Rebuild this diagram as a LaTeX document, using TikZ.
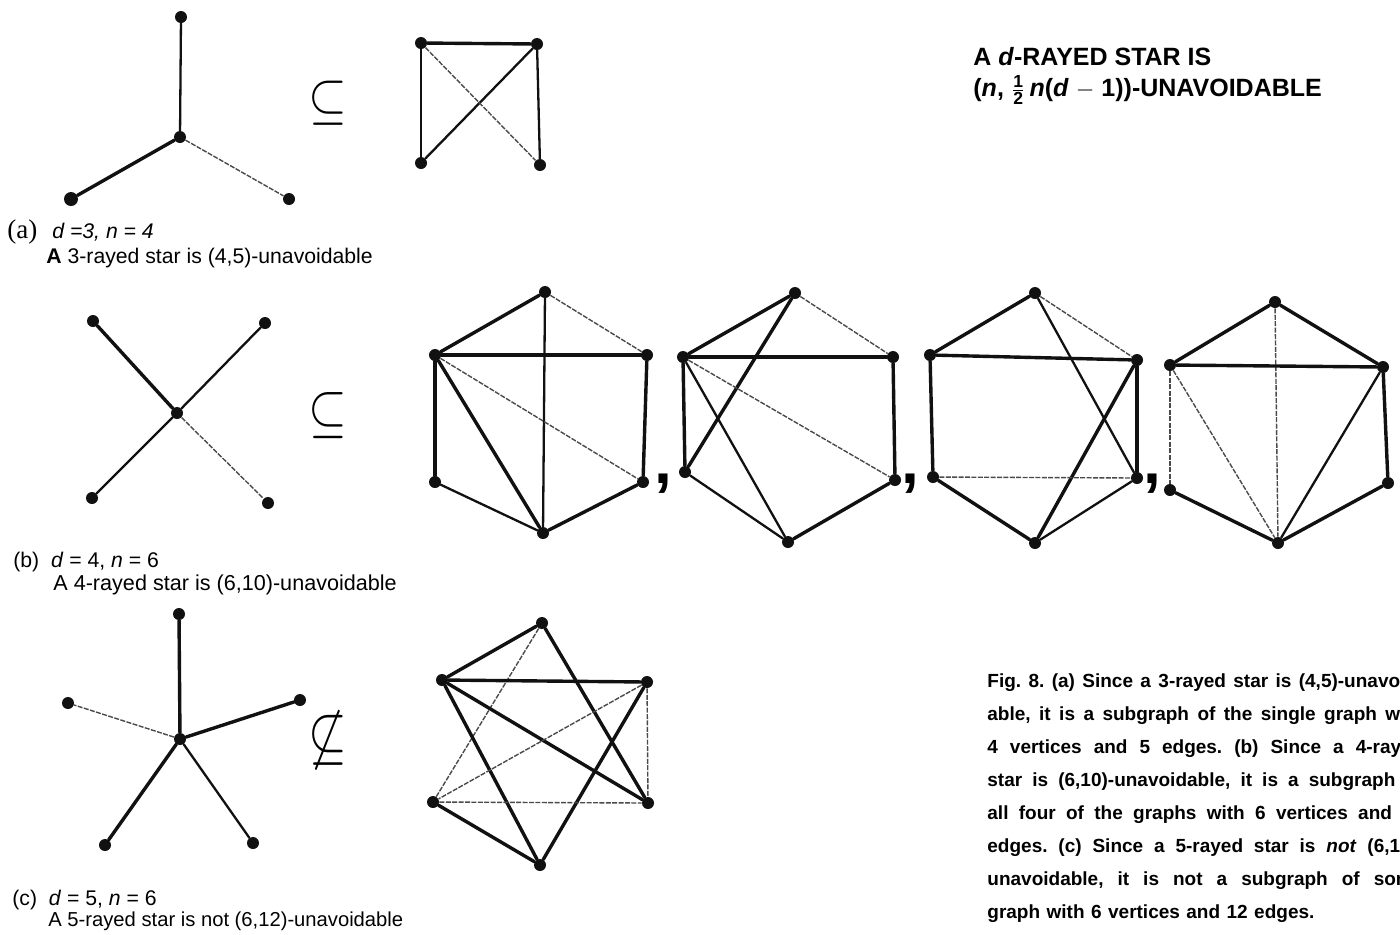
\documentclass[tikz,border=0pt]{standalone}
\usepackage{amsmath}
\usepackage{amssymb}
\usepackage{fontspec}
\setmainfont{Liberation Serif}
\setsansfont{Liberation Sans}
\usetikzlibrary{positioning}
\definecolor{figInk}{HTML}{111111}
\definecolor{figFaint}{HTML}{4A4A4A}
\newcommand{\halfsf}{\ensuremath{\tfrac{\textsf{1}}{\textsf{2}}}}
\tikzset{
  figvert/.style={circle,fill=figInk,inner sep=0pt,minimum size=6pt},
  figedge/.style={figInk,line width=1.7pt,line cap=round},
  figmid/.style={figInk,line width=1.15pt,line cap=round},
  figthin/.style={figFaint,line width=0.7pt,dash pattern=on 2.5pt off 0.7pt},
  figlabel/.style={font=\fontsize{10.6}{13}\selectfont\sffamily,anchor=west,
                   inner sep=0pt},
  figsym/.style={font=\fontsize{38}{38}\selectfont,inner sep=0pt},
  figcomma/.style={font=\fontsize{32}{32}\selectfont\sffamily\bfseries,
                   inner sep=0pt},
  fighead/.style={font=\fontsize{12.5}{15}\selectfont\sffamily\bfseries,
                  anchor=west,inner sep=0pt},
  figcap/.style={font=\fontsize{9.5}{11}\selectfont\sffamily\bfseries
                 \frenchspacing,anchor=west,inner sep=0pt}
}

\begin{document}
\begin{tikzpicture}[x=0.5pt,y=-0.5pt]
  \useasboundingbox (0,0) rectangle (1400,934);
  \clip (0,0) rectangle (1400,934);

  % (a) 3-rayed star and K4 minus an edge
  \node[figvert] (sAc) at (180,137) {};
  \node[figvert] (sAt) at (181,17) {};
  \node[figvert,minimum size=7pt] (sAl) at (71,199) {};
  \node[figvert] (sAr) at (289,199) {};
  \draw[figmid] (sAc) -- (sAt);
  \draw[figedge] (sAc) -- (sAl);
  \draw[figthin] (sAc) -- (sAr);
  \node[figsym] (subA) at (328,103) {\scalebox{1}[1.15]{$\subseteq$}};

  \node[figvert] (gKtl) at (421,43) {};
  \node[figvert] (gKtr) at (537,44) {};
  \node[figvert] (gKbl) at (421,163) {};
  \node[figvert] (gKbr) at (540,165) {};
  \draw[figedge] (gKtl) -- (gKtr);
  \draw[figmid] (gKtl) -- (gKbl);
  \draw[figmid] (gKtr) -- (gKbr);
  \draw[figmid] (gKbl) -- (gKtr);
  \draw[figthin] (gKtl) -- (gKbr);

  \node[font=\fontsize{13.5}{15}\selectfont\rmfamily,anchor=west,inner sep=0pt]
    (labA) at (7,232) {(a)};
  \node[figlabel] (labAd) at (52,232) {\textit{d =3, n = 4}};
  \node[figlabel] (labAt) at (46,258)
    {\textbf{A} 3-rayed star is (4,5)-unavoidable};

  % (b) 4-rayed star and the four graphs with 6 vertices, 10 edges
  \node[figvert] (sBc) at (177,413) {};
  \node[figvert] (sBtl) at (93,321) {};
  \node[figvert] (sBtr) at (265,323) {};
  \node[figvert] (sBbl) at (92,498) {};
  \node[figvert] (sBbr) at (268,503) {};
  \draw[figedge] (sBc) -- (sBtl);
  \draw[figmid] (sBc) -- (sBtr);
  \draw[figmid] (sBc) -- (sBbl);
  \draw[figthin] (sBc) -- (sBbr);
  \node[figsym] (subB) at (328,416) {\scalebox{1}[1.2]{$\subseteq$}};

  \node[figvert] (gAt) at (545,292) {};
  \node[figvert] (gAul) at (435,355) {};
  \node[figvert] (gAur) at (647,355) {};
  \node[figvert] (gAll) at (435,482) {};
  \node[figvert] (gAlr) at (643,482) {};
  \node[figvert] (gAb) at (543,533) {};
  \draw[figedge] (gAt) -- (gAul);
  \draw[figthin] (gAt) -- (gAur);
  \draw[figmid] (gAt) -- (gAb);
  \draw[figedge] (gAul) -- (gAur);
  \draw[figedge] (gAul) -- (gAll);
  \draw[figedge] (gAul) -- (gAb);
  \draw[figthin] (gAul) -- (gAlr);
  \draw[figedge] (gAur) -- (gAlr);
  \draw[figmid] (gAll) -- (gAb);
  \draw[figedge] (gAlr) -- (gAb);
  \node[figcomma] (cmA) at (663,484) {,};

  \node[figvert] (gBt) at (795,293) {};
  \node[figvert] (gBul) at (683,357) {};
  \node[figvert] (gBur) at (893,357) {};
  \node[figvert] (gBll) at (685,472) {};
  \node[figvert] (gBlr) at (895,480) {};
  \node[figvert] (gBb) at (788,542) {};
  \draw[figedge] (gBt) -- (gBul);
  \draw[figthin] (gBt) -- (gBur);
  \draw[figedge] (gBt) -- (gBll);
  \draw[figedge] (gBul) -- (gBur);
  \draw[figedge] (gBul) -- (gBll);
  \draw[figmid] (gBul) -- (gBb);
  \draw[figthin] (gBul) -- (gBlr);
  \draw[figedge] (gBur) -- (gBlr);
  \draw[figmid] (gBll) -- (gBb);
  \draw[figedge] (gBlr) -- (gBb);
  \node[figcomma] (cmB) at (910,484) {,};

  \node[figvert] (gCt) at (1035,293) {};
  \node[figvert] (gCul) at (930,355) {};
  \node[figvert] (gCur) at (1137,360) {};
  \node[figvert] (gCll) at (933,477) {};
  \node[figvert] (gClr) at (1137,478) {};
  \node[figvert] (gCb) at (1035,543) {};
  \draw[figedge] (gCt) -- (gCul);
  \draw[figthin] (gCt) -- (gCur);
  \draw[figmid] (gCt) -- (gClr);
  \draw[figedge] (gCul) -- (gCur);
  \draw[figedge] (gCul) -- (gCll);
  \draw[figedge] (gCur) -- (gClr);
  \draw[figedge] (gCur) -- (gCb);
  \draw[figthin] (gCll) -- (gClr);
  \draw[figedge] (gCll) -- (gCb);
  \draw[figmid] (gClr) -- (gCb);
  \node[figcomma] (cmC) at (1152,484) {,};

  \node[figvert] (gDt) at (1275,302) {};
  \node[figvert] (gDul) at (1170,365) {};
  \node[figvert] (gDur) at (1383,367) {};
  \node[figvert] (gDll) at (1170,490) {};
  \node[figvert] (gDlr) at (1388,483) {};
  \node[figvert] (gDb) at (1278,543) {};
  \draw[figedge] (gDt) -- (gDul);
  \draw[figedge] (gDt) -- (gDur);
  \draw[figthin] (gDt) -- (gDb);
  \draw[figedge] (gDul) -- (gDur);
  \draw[figthin] (gDul) -- (gDll);
  \draw[figthin] (gDul) -- (gDb);
  \draw[figmid] (gDur) -- (gDb);
  \draw[figedge] (gDur) -- (gDlr);
  \draw[figedge] (gDll) -- (gDb);
  \draw[figedge] (gDlr) -- (gDb);

  \node[figlabel] (labB) at (13,562)
    {(b)\ \ \textit{d} = 4,\ \textit{n} = 6};
  \node[figlabel,font=\fontsize{10.8}{13}\selectfont\sffamily] (labBt)
    at (53,585) {A 4-rayed star is (6,10)-unavoidable};

  % (c) 5-rayed star and a graph with 6 vertices, 12 edges
  \node[figvert] (sCc) at (180,739) {};
  \node[figvert] (sCt) at (179,614) {};
  \node[figvert] (sCl) at (68,703) {};
  \node[figvert] (sCr) at (300,700) {};
  \node[figvert] (sCbl) at (105,845) {};
  \node[figvert] (sCbr) at (253,843) {};
  \draw[figedge] (sCc) -- (sCt);
  \draw[figthin] (sCc) -- (sCl);
  \draw[figedge] (sCc) -- (sCr);
  \draw[figedge] (sCc) -- (sCbl);
  \draw[figmid] (sCc) -- (sCbr);
  \node[figsym] (nsubC) at (328,740) {\scalebox{1}[1.3]{$\not\subseteq$}};

  \node[figvert] (gEt) at (542,623) {};
  \node[figvert] (gEul) at (442,680) {};
  \node[figvert] (gEur) at (647,682) {};
  \node[figvert] (gEll) at (433,802) {};
  \node[figvert] (gElr) at (648,803) {};
  \node[figvert] (gEb) at (540,865) {};
  \draw[figedge] (gEt) -- (gEul);
  \draw[figthin] (gEt) -- (gEll);
  \draw[figedge] (gEt) -- (gElr);
  \draw[figedge] (gEul) -- (gEur);
  \draw[figedge] (gEul) -- (gElr);
  \draw[figedge] (gEul) -- (gEb);
  \draw[figthin] (gEur) -- (gElr);
  \draw[figthin] (gEur) -- (gEll);
  \draw[figedge] (gEur) -- (gEb);
  \draw[figthin] (gEll) -- (gElr);
  \draw[figedge] (gEll) -- (gEb);

  \node[figlabel] (labC) at (12,900)
    {(c)\ \ \textit{d} = 5,\ \textit{n} = 6};
  \node[figlabel,font=\fontsize{10.1}{12}\selectfont\sffamily] (labCt)
    at (48,921) {A 5-rayed star is not (6,12)-unavoidable};

  % heading and caption
  \node[fighead] (headA) at (973,57) {A \textit{d}-RAYED STAR IS};
  \node[fighead] (headB) at (973,90)
    {(\textit{n},\ \halfsf\,\textit{n}(\textit{d}\ $-$\ 1))-UNAVOIDABLE};

  \node[figcap] (capA) at (987,683)
    {\makebox[218pt][s]{Fig. 8. (a) Since a 3-rayed star is (4,5)-unavoid-}};
  \node[figcap] (capB) at (987,716)
    {\makebox[218pt][s]{able, it is a subgraph of the single graph with}};
  \node[figcap] (capC) at (987,749)
    {\makebox[218pt][s]{4 vertices and 5 edges. (b) Since a 4-rayed}};
  \node[figcap] (capD) at (987,782)
    {\makebox[218pt][s]{star is (6,10)-unavoidable, it is a subgraph of}};
  \node[figcap] (capE) at (987,815)
    {\makebox[218pt][s]{all four of the graphs with 6 vertices and 10}};
  \node[figcap] (capF) at (987,848)
    {\makebox[218pt][s]{edges. (c) Since a 5-rayed star is \textit{not} (6,12)-}};
  \node[figcap] (capG) at (987,881)
    {\makebox[218pt][s]{unavoidable, it is not a subgraph of some}};
  \node[figcap] (capH) at (987,914)
    {\spaceskip=0.34em graph with 6 vertices and 12 edges.};
\end{tikzpicture}
\end{document}
